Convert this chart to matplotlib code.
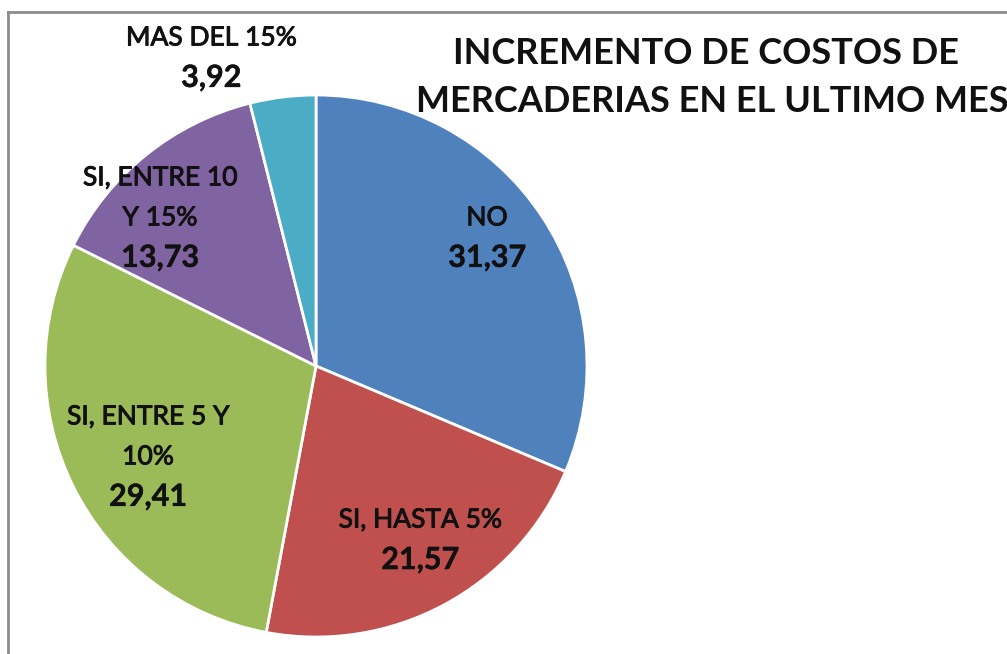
import matplotlib
matplotlib.use("Agg")
import matplotlib.pyplot as plt
from matplotlib.lines import Line2D
import matplotlib.patheffects as pe

categories = ["NO", "SI, HASTA 5%", "SI, ENTRE 5 Y\n10%", "SI, ENTRE 10\nY 15%", "MAS DEL 15%"]
values = [31.37, 21.57, 29.41, 13.73, 3.92]
value_labels = ["31,37", "21,57", "29,41", "13,73", "3,92"]
colors = ["#4F81BD", "#C0504D", "#9BBB59", "#8064A2", "#4BACC6"]
title = "INCREMENTO DE COSTOS DE\nMERCADERIAS EN EL ULTIMO MES"

W, H = 1007, 654
plt.rcParams['font.family'] = ['Lato', 'DejaVu Sans']
fig = plt.figure(figsize=(W / 100, H / 100), dpi=100)

cx, cy, r = 316, 366, 271
ax = fig.add_axes([(cx - r) / W, (H - cy - r) / H, 2 * r / W, 2 * r / H])
ax.pie(values, colors=colors, startangle=90, counterclock=False, radius=1,
       wedgeprops=dict(edgecolor="white", linewidth=2))
ax.set_xlim(-1, 1)
ax.set_ylim(-1, 1)
ax.set_aspect("equal")
ax.axis("off")

# value-label centres (data coords, relative to radius); category text sits above
value_pos = [(0.631, 0.399), (0.384, -0.716), (-0.62, -0.483), (-0.576, 0.399), (-0.387, 1.063)]
pitch = 40 / r
cat_fx = [pe.withStroke(linewidth=0.7, foreground="#111111")]
val_fx = [pe.withStroke(linewidth=0.3, foreground="#111111")]
for cat, val, (x, y) in zip(categories, value_labels, value_pos):
    lines = cat.split("\n")
    for i, line in enumerate(lines):
        ly = y + pitch * (len(lines) - i)
        ax.text(x, ly, line, ha="center", va="center", fontsize=19, fontweight="normal",
                color="#111111", path_effects=cat_fx, clip_on=False)
    ax.text(x, y, val, ha="center", va="center", fontsize=22,
            fontweight="bold", color="#111111", path_effects=val_fx, clip_on=False)

fig.text(706 / W, 1 - 53 / H, title.split("\n")[0], ha="center", va="center", fontsize=26,
         fontweight="bold", color="#111111")
fig.text(712 / W, 1 - 101 / H, title.split("\n")[1], ha="center", va="center", fontsize=26,
         fontweight="bold", color="#111111")

# chart-area border (top and left visible)
fig.add_artist(Line2D([8 / W, 1.0], [1 - 12 / H, 1 - 12 / H], transform=fig.transFigure,
                      color="#8c8c8c", linewidth=2))
fig.add_artist(Line2D([8 / W, 8 / W], [0, 1 - 12 / H], transform=fig.transFigure,
                      color="#8c8c8c", linewidth=2))

fig.savefig("out.png", dpi=100, facecolor="white")
